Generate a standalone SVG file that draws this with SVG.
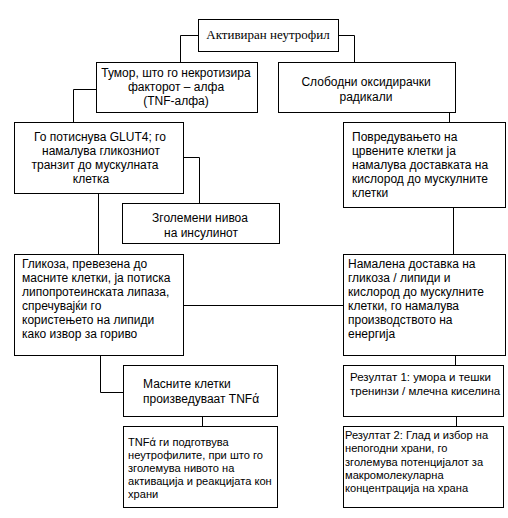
<svg xmlns="http://www.w3.org/2000/svg" width="508" height="518" viewBox="0 0 508 518">
<style>
rect{fill:#fff;stroke:#000;stroke-width:1}
.c path{fill:none;stroke:#000;stroke-width:1}
text{font-family:"Liberation Sans",Arial,sans-serif;font-size:12px;fill:#000}
.m{text-anchor:middle}
.s{font-family:"Liberation Serif","Times New Roman",serif;font-size:13px}
.f11{font-size:11.1px}
.f115{font-size:11.5px}
</style>
<rect x="0" y="0" width="508" height="518" style="stroke:none"/>
<g class="c" id="connectors">
<path d="M198.5,35.5H180.5V62.5"/>
<path d="M338.5,35.5H354.5V62.5"/>
<path d="M96.5,89.5H73.5V122.5"/>
<path d="M455.5,90.5H449.5V122.5"/>
<path d="M183.5,157.5H199.5V203.5"/>
<path d="M98.5,193.5V254.5"/>
<path d="M453.5,207.5V254.5"/>
<path d="M183.5,305.5H343.5"/>
<path d="M100.5,355.5V392.5H123.5"/>
<path d="M202.5,416.5V426.5"/>
<path d="M455.5,355.5V365.5"/>
<path d="M456.5,416.5V426.5"/>
</g>
<g id="n1"><rect x="198.5" y="19.5" width="140" height="32"/><text class="m s" x="268" y="39">Активиран неутрофил</text></g>
<g id="n2"><rect x="96.5" y="62.5" width="161" height="50"/>
<text class="m" x="176" y="77">Тумор, што го некротизира</text>
<text class="m" x="176" y="91">факторот – алфа</text>
<text class="m" x="176" y="105">(TNF-алфа)</text></g>
<g id="n3"><rect x="278.5" y="62.5" width="177" height="50"/>
<text class="m" x="366" y="86">Слободни оксидирачки</text>
<text class="m" x="366" y="101">радикали</text></g>
<g id="n4"><rect x="14.5" y="122.5" width="169" height="71"/>
<text class="m" x="100" y="141">Го потиснува GLUT4; го</text>
<text class="m" x="101" y="155">намалува гликозниот</text>
<text class="m" x="95" y="169">транзит до мускулната</text>
<text class="m" x="91" y="183">клетка</text></g>
<g id="n5"><rect x="122.5" y="203.5" width="157" height="40"/>
<text class="m" x="200" y="222">Зголемени нивоа</text>
<text class="m" x="201" y="237">на инсулинот</text></g>
<g id="n6"><rect x="343.5" y="122.5" width="162" height="85"/>
<text x="352" y="141">Повредувањето на</text>
<text x="352" y="155">црвените клетки ја</text>
<text x="352" y="169">намалува доставката на</text>
<text x="352" y="183">кислород до мускулните</text>
<text x="352" y="197">клетки</text></g>
<g id="n7"><rect x="14.5" y="254.5" width="169" height="101"/>
<text x="22" y="268">Гликоза, превезена до</text>
<text x="22" y="282">масните клетки, ја потиска</text>
<text x="22" y="296">липопротеинската липаза,</text>
<text x="22" y="310">спречувајќи го</text>
<text x="22" y="324">користењето на липиди</text>
<text x="22" y="338">како извор за гориво</text></g>
<g id="n8"><rect x="343.5" y="254.5" width="162" height="101"/>
<text x="348" y="268">Намалена доставка на</text>
<text x="348" y="282">гликоза / липиди и</text>
<text x="348" y="296">кислород до мускулните</text>
<text x="348" y="310">клетки, го намалува</text>
<text x="348" y="324">производството на</text>
<text x="348" y="338">енергија</text></g>
<g id="n9"><rect x="123.5" y="365.5" width="154" height="51"/>
<text x="143" y="388">Масните клетки</text>
<text x="143" y="403">произведуваат TNFά</text></g>
<g id="n10" class="f11"><rect x="123.5" y="426.5" width="154" height="81"/>
<text class="f11" x="128" y="446">TNFά ги подготвува</text>
<text class="f11" x="128" y="459">неутрофилите, при што го</text>
<text class="f11" x="128" y="472">зголемува нивото на</text>
<text class="f11" x="128" y="485">активација и реакцијата кон</text>
<text class="f11" x="128" y="498">храни</text></g>
<g id="n11"><rect x="343.5" y="365.5" width="160" height="51"/>
<text class="f115" x="350" y="381">Резултат 1: умора и тешки</text>
<text class="f115" x="350" y="395">тренинзи / млечна киселина</text></g>
<g id="n12"><rect x="343.5" y="426.5" width="160" height="81"/>
<text class="f11" x="345" y="439">Резултат 2: Глад и избор на</text>
<text class="f11" x="345" y="452">непогодни храни, го</text>
<text class="f11" x="345" y="466">зголемува потенцијалот за</text>
<text class="f11" x="345" y="479">макромолекуларна</text>
<text class="f11" x="345" y="492">концентрација на храна</text></g>
</svg>
